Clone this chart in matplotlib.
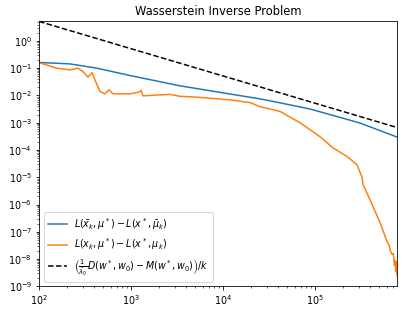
import matplotlib
matplotlib.use('Agg')
import matplotlib.pyplot as plt

plt.rcParams['font.size'] = 9.5

# averaged iterate gap (blue)
k_avg = [100, 217, 427, 975, 3410, 10000, 25200, 32400, 88300, 308000, 778000]
gap_avg = [0.163, 0.144, 0.100, 0.054, 0.0226, 0.0125, 0.0075, 0.0064, 0.0032, 0.00098, 0.0003]

# last iterate gap (orange)
k_last = [100, 156, 217, 265, 301, 341, 377, 406, 461, 521, 576, 637, 975, 1253, 1285, 1350,
          2655, 3410, 5215, 11900, 19650, 25200, 32400, 41700, 68800, 113000, 157000, 223000,
          286000, 325000, 333000, 396000, 509000, 607000, 640000, 660000, 688000, 710000,
          730000, 741000, 755000, 765000, 778000]
gap_last = [0.161, 0.100, 0.087, 0.100, 0.075, 0.047, 0.069, 0.037, 0.014, 0.0115, 0.0161,
            0.0115, 0.0115, 0.0136, 0.0155, 0.0097, 0.0110, 0.0093, 0.0087, 0.0069, 0.0055,
            0.0039, 0.0032, 0.0026, 0.0010, 3.1e-4, 1.2e-4, 5.8e-5, 2.9e-5, 9.7e-6, 5.4e-6,
            1.5e-6, 2.2e-7, 4.4e-8, 3.2e-8, 2.0e-8, 1.5e-8, 1.6e-8, 6.0e-9, 9.0e-9, 3.5e-9,
            8.0e-9, 2.5e-9]

# theoretical O(1/k) bound (dashed)
k_bound = [100, 778000]
bound = [5.2, 6.7e-4]

labels = [r'$L(\bar{x}_k,\mu^*) - L(x^*,\bar{\mu}_k)$',
          r'$L(x_k,\mu^*) - L(x^*,\mu_k)$',
          r'$\left(\frac{1}{\bar{\lambda}_0}D(w^*,w_0) - M(w^*,w_0)\right)/k$']

fig = plt.figure(figsize=(407 / 72, 313 / 72), dpi=72)
ax = fig.add_axes([0.0958, 0.085, 0.8796, 0.848])
ax.loglog(k_avg, gap_avg, color='tab:blue', label=labels[0])
ax.loglog(k_last, gap_last, color='tab:orange', label=labels[1])
ax.loglog(k_bound, bound, 'k--', label=labels[2])
ax.set_xlim(100, 778000)
ax.set_ylim(1e-9, 5.4)
ax.set_title('Wasserstein Inverse Problem', fontsize=11.5)
ax.legend(loc='lower left')

fig.savefig('out.png', dpi=72)
